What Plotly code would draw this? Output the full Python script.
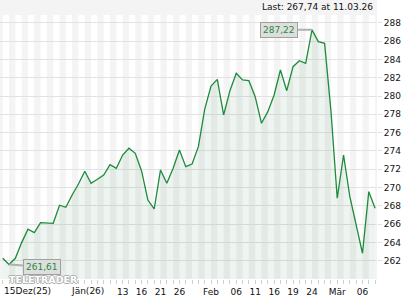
import plotly.graph_objects as go

# trading-day index 0..59 (11 Dec 2025 .. 11 Mar 2026)
prices = [262.29, 261.61, 262.29, 264.0, 265.46, 265.09, 266.18, 266.18, 266.11, 268.08,
          267.86, 269.2, 270.4, 271.79, 270.48, 270.91, 271.38, 272.51, 272.11, 273.56,
          274.3, 273.75, 271.82, 268.65, 267.67, 271.93, 270.48, 272.11, 274.11, 272.29,
          272.58, 274.47, 278.55, 281.09, 281.82, 277.93, 280.58, 282.48, 281.75, 281.67,
          279.93, 277.02, 278.29, 280.11, 282.84, 280.58, 283.2, 283.85, 283.57, 287.22,
          285.93, 285.75, 278.4, 268.84, 273.56, 269.01, 265.93, 262.84, 269.56, 267.74]
days = list(range(len(prices)))

tick_idx = [19, 22, 25, 28, 33, 37, 40, 43, 46, 49, 53, 57]
tick_text = ["13", "16", "21", "26", "Feb", "06", "11", "16", "19", "24", "Mär", "06"]
first_labels = [(1, "15", "Dez(25)"), (12, "Jän", "(26)")]
y_ticks = list(range(262, 289, 2))

FONT = "DejaVu Sans"
GREEN = "#1d8b3c"

hi_i = max(days, key=lambda i: prices[i])
lo_i = min(days, key=lambda i: prices[i])

def fmt(v):
    return f"{v:.2f}".replace(".", ",")

fig = go.Figure()
fig.add_trace(go.Scatter(
    x=days, y=prices, mode="lines",
    line=dict(color=GREEN, width=1.3),
    fill="tozeroy", fillcolor="rgba(40,120,60,0.08)",
    hoverinfo="skip", showlegend=False))

shapes = []
# alternating day stripes
for i in range(-1, len(days) + 1):
    if i % 2 != 0:
        shapes.append(dict(type="rect", layer="below", xref="x", yref="paper",
                           x0=i, x1=i + 1, y0=0, y1=1,
                           fillcolor="#f4f4f4", line=dict(width=0)))
# header band
shapes.append(dict(type="rect", layer="below", xref="paper", yref="paper",
                   x0=0, x1=1, y0=1, y1=1.06, fillcolor="#f4f4f4", line=dict(width=0)))

annotations = [
    dict(xref="paper", yref="paper", x=1, y=1, xanchor="right", yanchor="bottom",
         xshift=-2, yshift=1, showarrow=False,
         text=f"Last: {fmt(prices[-1])} at 11.03.26",
         font=dict(family=FONT, size=9, color="#111")),
    dict(x=hi_i, y=prices[hi_i], text=fmt(prices[hi_i]), showarrow=True,
         ax=-33, ay=0, arrowhead=0, arrowwidth=2, arrowcolor="#b0b0b0",
         bgcolor="#dedede", bordercolor="#a0a0a0", borderwidth=1, borderpad=2,
         font=dict(family=FONT, size=9, color=GREEN)),
    dict(x=lo_i, y=prices[lo_i], text=fmt(prices[lo_i]), showarrow=True,
         ax=33, ay=2, arrowhead=0, arrowwidth=2, arrowcolor="#b0b0b0",
         bgcolor="#dedede", bordercolor="#a0a0a0", borderwidth=1, borderpad=2,
         font=dict(family=FONT, size=9, color=GREEN)),
    dict(xref="paper", yref="paper", x=0.115, y=0.0, xanchor="center", yanchor="middle",
         showarrow=False, text="<b>TELETRADER</b>",
         font=dict(family=FONT, size=9.5, color="#ffffff",
                   shadow="1px 0 0 #b0b0b0, -1px 0 0 #b0b0b0, 0 1px 0 #b0b0b0, 0 -1px 0 #b0b0b0")),
]
for idx, head, tail in first_labels:
    annotations.append(dict(x=idx, xref="x", yref="paper", y=0, yanchor="top",
                            xanchor="left", xshift=-(2.9 * len(head)) - 1, yshift=-5,
                            showarrow=False, text=head + tail,
                            font=dict(family=FONT, size=9, color="#111")))

fig.update_layout(
    width=420, height=300,
    margin=dict(l=0, r=43, t=15, b=21),
    paper_bgcolor="white", plot_bgcolor="white",
    shapes=shapes, annotations=annotations,
    xaxis=dict(range=[-0.43, 59.3], showgrid=False, zeroline=False, showline=False,
               tickmode="array", tickvals=[i for i, _, _ in first_labels] + tick_idx,
               ticktext=["" for _ in first_labels] + tick_text,
               ticks="outside", ticklen=4, tickcolor="#cfcfcf", tickwidth=1,
               minor=dict(ticks="outside", ticklen=4, tickcolor="#cfcfcf", dtick=1, tick0=0),
               tickfont=dict(family=FONT, size=9, color="#111")),
    yaxis=dict(side="right", range=[260.03, 288.84], tickvals=y_ticks,
               showgrid=True, gridcolor="#e2e2e2", gridwidth=1, zeroline=False,
               ticks="outside", ticklen=4, tickcolor="#e2e2e2",
               tickfont=dict(family=FONT, size=9, color="#111")),
)

fig.write_html("out.html")
